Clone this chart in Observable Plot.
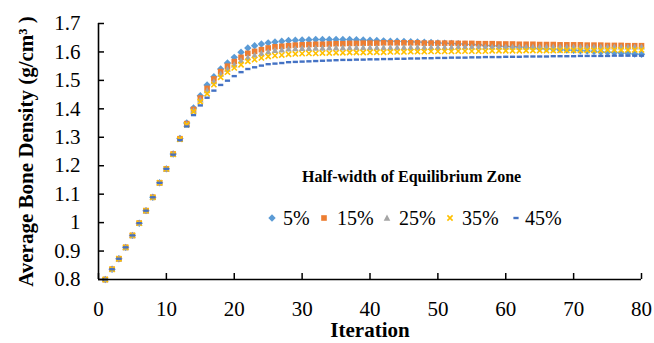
<!DOCTYPE html>
<html><head><meta charset="utf-8">
<script src="https://cdn.jsdelivr.net/npm/d3@7"></script>
<script src="https://cdn.jsdelivr.net/npm/@observablehq/plot@0.6"></script>
<style>
body{margin:0;background:#fff;}
#wrap{position:relative;width:654px;height:343px;font-family:"Liberation Serif","DejaVu Serif",serif;color:#000;}
#wrap svg text{font-family:"Liberation Serif","DejaVu Serif",serif;}
.lg{position:absolute;white-space:nowrap;font-family:"Liberation Serif","DejaVu Serif",serif;}
.lg svg{position:absolute;}
</style></head><body><div id="wrap"></div>
<script>
const iterations = [1,2,3,4,5,6,7,8,9,10,11,12,13,14,15,16,17,18,19,20,21,22,23,24,25,26,27,28,29,30,31,32,33,34,35,36,37,38,39,40,41,42,43,44,45,46,47,48,49,50,51,52,53,54,55,56,57,58,59,60,61,62,63,64,65,66,67,68,69,70,71,72,73,74,75,76,77,78,79,80];

const seriesNames = ["5%", "15%", "25%", "35%", "45%"];

const density5 = [0.800,0.836,0.873,0.913,0.955,0.998,1.042,1.089,1.140,1.189,
  1.241,1.296,1.350,1.403,1.446,1.484,1.513,1.540,1.561,1.581,
  1.599,1.614,1.622,1.628,1.632,1.635,1.638,1.640,1.641,1.642,
  1.643,1.644,1.644,1.644,1.644,1.644,1.644,1.643,1.642,1.641,
  1.640,1.639,1.638,1.638,1.637,1.636,1.635,1.634,1.633,1.632,
  1.631,1.630,1.629,1.627,1.626,1.625,1.623,1.622,1.621,1.619,
  1.618,1.617,1.615,1.614,1.612,1.611,1.610,1.608,1.607,1.606,
  1.604,1.603,1.602,1.600,1.599,1.598,1.596,1.595,1.593,1.592];

const density15 = [0.800,0.836,0.873,0.913,0.955,0.998,1.042,1.089,1.140,1.189,
  1.241,1.295,1.348,1.398,1.438,1.472,1.505,1.531,1.550,1.566,
  1.581,1.595,1.602,1.608,1.614,1.618,1.620,1.622,1.624,1.625,
  1.626,1.627,1.627,1.628,1.629,1.629,1.630,1.630,1.631,1.631,
  1.631,1.632,1.632,1.632,1.632,1.632,1.632,1.631,1.631,1.631,
  1.631,1.631,1.630,1.630,1.630,1.629,1.629,1.629,1.628,1.628,
  1.628,1.627,1.627,1.627,1.626,1.626,1.626,1.625,1.625,1.625,
  1.625,1.624,1.624,1.624,1.623,1.623,1.623,1.622,1.622,1.622];

const density25 = [0.800,0.836,0.873,0.913,0.955,0.998,1.042,1.089,1.140,1.189,
  1.241,1.294,1.346,1.394,1.432,1.465,1.496,1.523,1.540,1.555,
  1.570,1.581,1.589,1.596,1.601,1.606,1.608,1.611,1.612,1.613,
  1.613,1.614,1.614,1.615,1.615,1.615,1.615,1.616,1.616,1.616,
  1.616,1.616,1.616,1.617,1.617,1.617,1.617,1.617,1.617,1.617,
  1.617,1.617,1.618,1.618,1.618,1.618,1.618,1.618,1.618,1.618,
  1.618,1.618,1.618,1.618,1.618,1.618,1.618,1.618,1.618,1.618,
  1.618,1.618,1.618,1.618,1.618,1.618,1.618,1.618,1.618,1.618];

const density35 = [0.800,0.836,0.873,0.913,0.955,0.998,1.042,1.089,1.140,1.189,
  1.240,1.293,1.344,1.390,1.425,1.453,1.485,1.511,1.529,1.544,
  1.555,1.567,1.573,1.579,1.584,1.587,1.589,1.592,1.593,1.594,
  1.595,1.595,1.596,1.596,1.597,1.597,1.598,1.598,1.598,1.599,
  1.599,1.599,1.600,1.600,1.600,1.601,1.601,1.601,1.602,1.602,
  1.602,1.602,1.603,1.603,1.603,1.603,1.603,1.604,1.604,1.604,
  1.604,1.604,1.605,1.605,1.605,1.605,1.605,1.606,1.606,1.606,
  1.606,1.606,1.606,1.606,1.607,1.607,1.607,1.607,1.607,1.607];

const density45 = [0.800,0.836,0.873,0.913,0.955,0.998,1.042,1.089,1.140,1.189,
  1.239,1.290,1.338,1.378,1.412,1.439,1.464,1.484,1.499,1.515,
  1.529,1.540,1.546,1.552,1.557,1.559,1.561,1.564,1.565,1.566,
  1.567,1.568,1.569,1.570,1.571,1.572,1.572,1.573,1.573,1.574,
  1.574,1.575,1.575,1.576,1.576,1.577,1.577,1.578,1.578,1.579,
  1.579,1.580,1.580,1.580,1.581,1.581,1.582,1.582,1.582,1.583,
  1.583,1.583,1.584,1.584,1.584,1.584,1.585,1.585,1.585,1.585,
  1.586,1.586,1.586,1.586,1.586,1.587,1.587,1.587,1.587,1.587];

const xTicks = [0,10,20,30,40,50,60,70,80];
const yTicks = [0.8,0.9,1.0,1.1,1.2,1.3,1.4,1.5,1.6,1.7];

const legendTitle = "Half-width of Equilibrium Zone";
const yLabel = "Average Bone Density (g/cm\u00B3 )";
const xLabel = "Iteration";

const colors = ["#5B9BD5", "#ED7D31", "#A5A5A5", "#FFC000", "#4472C4"];
const serif = "'Liberation Serif','DejaVu Serif',serif";

const symDiamond = {draw(c){c.moveTo(0,-3.7);c.lineTo(3.7,0);c.lineTo(0,3.7);c.lineTo(-3.7,0);c.closePath();}};
const symSquare = {draw(c){c.rect(-2.8,-2.8,5.6,5.6);}};
const symTriangle = {draw(c){c.moveTo(0,-3.4);c.lineTo(3.3,2.8);c.lineTo(-3.3,2.8);c.closePath();}};
const symTimes = {draw(c){c.moveTo(-2.6,-2.6);c.lineTo(2.6,2.6);c.moveTo(2.6,-2.6);c.lineTo(-2.6,2.6);}};
const symDash = {draw(c){c.rect(-2.6,-1.2,5.2,2.4);}};

const allSeries = [density5, density15, density25, density35, density45];
const symbols = [symDiamond, symSquare, symTriangle, symTimes, symDash];

const rowsFor = (vals, name) => vals.map((v, i) => ({iteration: iterations[i], density: v, series: name}));

const dotMarks = allSeries.map((vals, k) => {
  const rows = rowsFor(vals, seriesNames[k]);
  if (k === 3) {
    return Plot.dot(rows, {x: "iteration", y: "density", symbol: symbols[k], r: 3, fill: "none", stroke: colors[k], strokeWidth: 1.6});
  }
  return Plot.dot(rows, {x: "iteration", y: "density", symbol: symbols[k], r: 3, fill: colors[k], stroke: "none"});
});

const chart = Plot.plot({
  width: 654,
  height: 343,
  marginLeft: 98,
  marginRight: 13,
  marginTop: 23,
  marginBottom: 64,
  style: {fontFamily: serif, background: "#fff", color: "#000"},
  x: {domain: [0, 80]},
  y: {domain: [0.8, 1.7]},
  marks: [
    ...dotMarks,
    Plot.axisY(yTicks, {tickSize: 0, tickPadding: 18, fontSize: 21, fontFamily: serif, tickFormat: d3.format("~g"), label: null, fill: "#000"}),
    Plot.axisY(yTicks, {tickSize: -6, text: null, label: null, stroke: "#000", strokeWidth: 1.5}),
    Plot.axisX(xTicks, {tickSize: 0, tickPadding: 22, fontSize: 21, fontFamily: serif, label: null, fill: "#000"}),
    Plot.axisX(xTicks, {tickSize: -6, text: null, label: null, stroke: "#000", strokeWidth: 1.5}),
    Plot.ruleX([0], {stroke: "#000", strokeWidth: 1.6}),
    Plot.ruleY([0.8], {stroke: "#000", strokeWidth: 1.6}),
    Plot.text([yLabel], {frameAnchor: "left", dx: -72, rotate: -90, textAnchor: "middle", fontSize: 21, fontWeight: "bold", fontFamily: serif, lineAnchor: "middle", fill: "#000"}),
    Plot.text([xLabel], {frameAnchor: "bottom", dy: 51, textAnchor: "middle", fontSize: 21, fontWeight: "bold", fontFamily: serif, lineAnchor: "middle", fill: "#000"})
  ]
});

const wrap = document.getElementById("wrap");
wrap.appendChild(chart);

// Legend (HTML overlay inside the plot area)
const title = document.createElement("div");
title.className = "lg";
title.style.cssText = "left:302px;top:169px;font-size:16px;line-height:16px;font-weight:bold;";
title.textContent = legendTitle;
wrap.appendChild(title);

const markerX = [272, 324, 387, 450, 516];
const textX = [283, 337, 399, 462, 525];
const markerSvg = [
  `<polygon points="0,-3.7 3.7,0 0,3.7 -3.7,0" fill="${colors[0]}"/>`,
  `<rect x="-2.8" y="-2.8" width="5.6" height="5.6" fill="${colors[1]}"/>`,
  `<polygon points="0,-3.4 3.3,2.8 -3.3,2.8" fill="${colors[2]}"/>`,
  `<path d="M-2.6,-2.6L2.6,2.6M2.6,-2.6L-2.6,2.6" stroke="${colors[3]}" stroke-width="1.6" fill="none"/>`,
  `<rect x="-2.6" y="-1.2" width="5.2" height="2.4" fill="${colors[4]}"/>`
];
seriesNames.forEach((name, k) => {
  const m = document.createElement("div");
  m.className = "lg";
  m.style.cssText = `left:${markerX[k]-6}px;top:${218-6}px;width:12px;height:12px;`;
  m.innerHTML = `<svg width="12" height="12" viewBox="-6 -6 12 12" style="left:0;top:0">${markerSvg[k]}</svg>`;
  wrap.appendChild(m);
  const t = document.createElement("div");
  t.className = "lg";
  t.style.cssText = `left:${textX[k]}px;top:208px;font-size:20px;line-height:20px;`;
  t.textContent = name;
  wrap.appendChild(t);
});
</script>
</body></html>
